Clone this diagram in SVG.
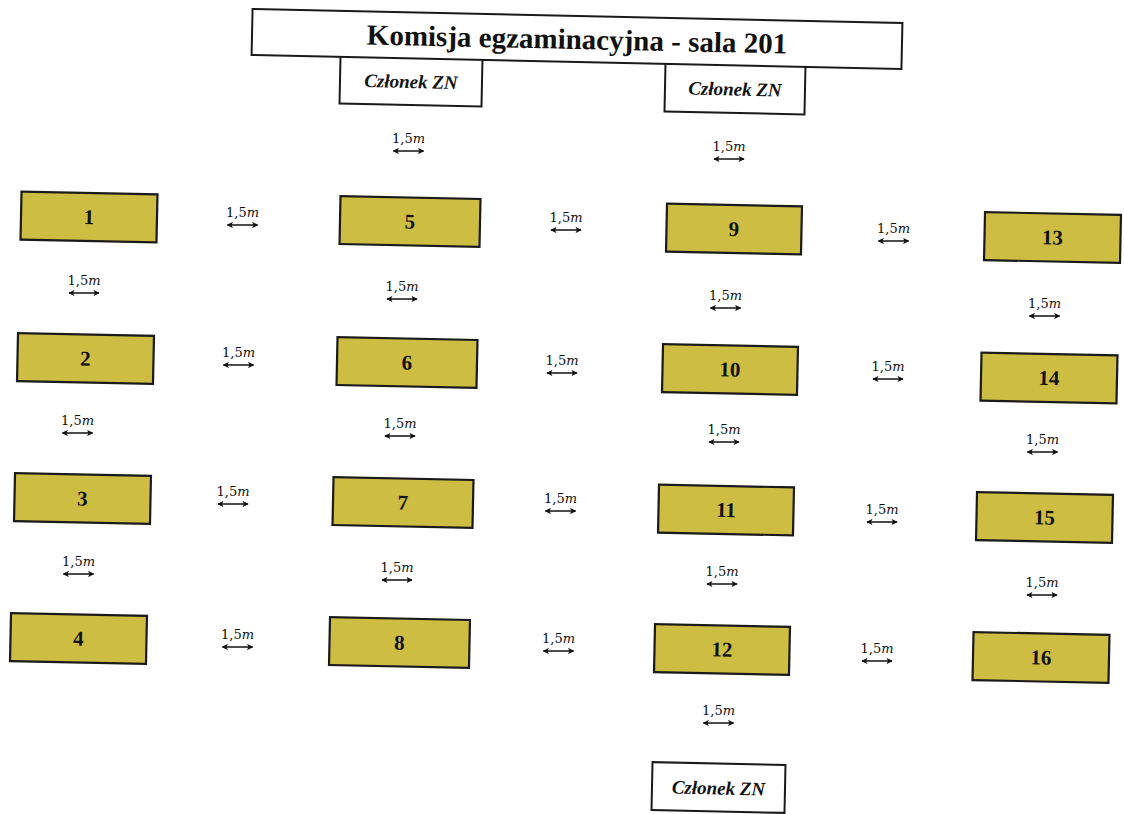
<svg xmlns="http://www.w3.org/2000/svg" width="1124" height="814" viewBox="0 0 1124 814">
<style>
  .box{fill:#ffffff;stroke:#1a1a1a;stroke-width:2}
  .desk{fill:#cdbd42;stroke:#1a1a1a;stroke-width:2.2}
  .num{font-family:"Liberation Serif","Times New Roman",serif;font-weight:bold;font-size:21px;fill:#111;text-anchor:middle}
  .title{font-family:"Liberation Serif","Times New Roman",serif;font-weight:bold;font-size:29px;fill:#111;text-anchor:middle}
  .member{font-family:"Liberation Serif","Times New Roman",serif;font-style:italic;font-weight:bold;font-size:19px;fill:#111;text-anchor:middle}
  .dimt{font-family:"DejaVu Serif","Liberation Serif",serif;font-size:13px;fill:#111;text-anchor:middle}
  .dimt tspan{font-style:italic}
  .diml{stroke:#111;stroke-width:1.5;fill:none;marker-start:url(#ah);marker-end:url(#ah)}
</style>
<defs>
  <marker id="ah" viewBox="0 0 8 8" refX="7" refY="4" markerWidth="4.2" markerHeight="4.2" orient="auto-start-reverse" markerUnits="strokeWidth">
    <path d="M0,0 L8,4 L0,8 L2,4 z" fill="#111"/>
  </marker>
</defs>
<rect width="1124" height="814" fill="#ffffff"/>

<g id="member-left" transform="translate(411,81) rotate(1.2)">
  <rect class="box" x="-71" y="-24" width="142" height="48"/>
  <text class="member" y="7">Członek ZN</text>
</g>
<g id="member-right" transform="translate(735,88.5) rotate(1.2)">
  <rect class="box" x="-70" y="-24.5" width="140" height="49"/>
  <text class="member" y="7">Członek ZN</text>
</g>
<g id="title" transform="translate(577,39) rotate(1.23)">
  <rect class="box" x="-325" y="-23" width="650" height="46"/>
  <text class="title" y="10">Komisja egzaminacyjna - sala 201</text>
</g>
<g id="member-bottom" transform="translate(718.5,787.5) rotate(1.2)">
  <rect class="box" x="-66.5" y="-24" width="133" height="48"/>
  <text class="member" y="7">Członek ZN</text>
</g>

<g id="desk-1" transform="translate(89,217) rotate(1.2)"><rect class="desk" x="-68" y="-24" width="136" height="48"/><text class="num" y="7">1</text></g>
<g id="desk-2" transform="translate(85.5,358.5) rotate(1.2)"><rect class="desk" x="-68" y="-24" width="136" height="48"/><text class="num" y="7">2</text></g>
<g id="desk-3" transform="translate(82.5,498.5) rotate(1.2)"><rect class="desk" x="-68" y="-24" width="136" height="48"/><text class="num" y="7">3</text></g>
<g id="desk-4" transform="translate(78.5,638.5) rotate(1.2)"><rect class="desk" x="-68" y="-24" width="136" height="48"/><text class="num" y="7">4</text></g>
<g id="desk-5" transform="translate(410,221.5) rotate(1.2)"><rect class="desk" x="-70" y="-24" width="140" height="48"/><text class="num" y="7">5</text></g>
<g id="desk-6" transform="translate(407,362.5) rotate(1.2)"><rect class="desk" x="-70" y="-24" width="140" height="48"/><text class="num" y="7">6</text></g>
<g id="desk-7" transform="translate(403,502.5) rotate(1.2)"><rect class="desk" x="-70" y="-24" width="140" height="48"/><text class="num" y="7">7</text></g>
<g id="desk-8" transform="translate(399.5,642.5) rotate(1.2)"><rect class="desk" x="-70" y="-24" width="140" height="48"/><text class="num" y="7">8</text></g>
<g id="desk-9" transform="translate(734,229) rotate(1.2)"><rect class="desk" x="-67.5" y="-24" width="135" height="48"/><text class="num" y="7">9</text></g>
<g id="desk-10" transform="translate(730,369.5) rotate(1.2)"><rect class="desk" x="-67.5" y="-24" width="135" height="48"/><text class="num" y="7">10</text></g>
<g id="desk-11" transform="translate(726,510) rotate(1.2)"><rect class="desk" x="-67.5" y="-24" width="135" height="48"/><text class="num" y="7">11</text></g>
<g id="desk-12" transform="translate(722,649.5) rotate(1.2)"><rect class="desk" x="-67.5" y="-24" width="135" height="48"/><text class="num" y="7">12</text></g>
<g id="desk-13" transform="translate(1052.5,237.5) rotate(1.2)"><rect class="desk" x="-68" y="-24" width="136" height="48"/><text class="num" y="7">13</text></g>
<g id="desk-14" transform="translate(1049,378) rotate(1.2)"><rect class="desk" x="-68" y="-24" width="136" height="48"/><text class="num" y="7">14</text></g>
<g id="desk-15" transform="translate(1044.5,517.5) rotate(1.2)"><rect class="desk" x="-68" y="-24" width="136" height="48"/><text class="num" y="7">15</text></g>
<g id="desk-16" transform="translate(1041,657.5) rotate(1.2)"><rect class="desk" x="-68" y="-24" width="136" height="48"/><text class="num" y="7">16</text></g>

<g id="connectors">
  <text class="dimt" x="242.5" y="217">1,5<tspan>m</tspan></text><line class="diml" x1="227.5" y1="225" x2="257.5" y2="225"/>
  <text class="dimt" x="566" y="222">1,5<tspan>m</tspan></text><line class="diml" x1="551" y1="230" x2="581" y2="230"/>
  <text class="dimt" x="893.5" y="233">1,5<tspan>m</tspan></text><line class="diml" x1="878.5" y1="241" x2="908.5" y2="241"/>
  <text class="dimt" x="238.5" y="357">1,5<tspan>m</tspan></text><line class="diml" x1="223.5" y1="365" x2="253.5" y2="365"/>
  <text class="dimt" x="562" y="365">1,5<tspan>m</tspan></text><line class="diml" x1="547" y1="373" x2="577" y2="373"/>
  <text class="dimt" x="888" y="371">1,5<tspan>m</tspan></text><line class="diml" x1="873" y1="379" x2="903" y2="379"/>
  <text class="dimt" x="233" y="496">1,5<tspan>m</tspan></text><line class="diml" x1="218" y1="504" x2="248" y2="504"/>
  <text class="dimt" x="560.5" y="503">1,5<tspan>m</tspan></text><line class="diml" x1="545.5" y1="511" x2="575.5" y2="511"/>
  <text class="dimt" x="882" y="514">1,5<tspan>m</tspan></text><line class="diml" x1="867" y1="522" x2="897" y2="522"/>
  <text class="dimt" x="237.5" y="639">1,5<tspan>m</tspan></text><line class="diml" x1="222.5" y1="647" x2="252.5" y2="647"/>
  <text class="dimt" x="558.5" y="643">1,5<tspan>m</tspan></text><line class="diml" x1="543.5" y1="651" x2="573.5" y2="651"/>
  <text class="dimt" x="877" y="653">1,5<tspan>m</tspan></text><line class="diml" x1="862" y1="661" x2="892" y2="661"/>

  <text class="dimt" x="84" y="285">1,5<tspan>m</tspan></text><line class="diml" x1="69" y1="293" x2="99" y2="293"/>
  <text class="dimt" x="77.5" y="425">1,5<tspan>m</tspan></text><line class="diml" x1="62.5" y1="433" x2="92.5" y2="433"/>
  <text class="dimt" x="78.5" y="566">1,5<tspan>m</tspan></text><line class="diml" x1="63.5" y1="574" x2="93.5" y2="574"/>

  <text class="dimt" x="408.5" y="143">1,5<tspan>m</tspan></text><line class="diml" x1="393.5" y1="151" x2="423.5" y2="151"/>
  <text class="dimt" x="402" y="291">1,5<tspan>m</tspan></text><line class="diml" x1="387" y1="299" x2="417" y2="299"/>
  <text class="dimt" x="400" y="428">1,5<tspan>m</tspan></text><line class="diml" x1="385" y1="436" x2="415" y2="436"/>
  <text class="dimt" x="397" y="572">1,5<tspan>m</tspan></text><line class="diml" x1="382" y1="580" x2="412" y2="580"/>

  <text class="dimt" x="729" y="151">1,5<tspan>m</tspan></text><line class="diml" x1="714" y1="159" x2="744" y2="159"/>
  <text class="dimt" x="725.5" y="300">1,5<tspan>m</tspan></text><line class="diml" x1="710.5" y1="308" x2="740.5" y2="308"/>
  <text class="dimt" x="724" y="434">1,5<tspan>m</tspan></text><line class="diml" x1="709" y1="442" x2="739" y2="442"/>
  <text class="dimt" x="722" y="576">1,5<tspan>m</tspan></text><line class="diml" x1="707" y1="584" x2="737" y2="584"/>
  <text class="dimt" x="718.5" y="715">1,5<tspan>m</tspan></text><line class="diml" x1="703.5" y1="723" x2="733.5" y2="723"/>

  <text class="dimt" x="1044.5" y="308">1,5<tspan>m</tspan></text><line class="diml" x1="1029.5" y1="316" x2="1059.5" y2="316"/>
  <text class="dimt" x="1042.5" y="444">1,5<tspan>m</tspan></text><line class="diml" x1="1027.5" y1="452" x2="1057.5" y2="452"/>
  <text class="dimt" x="1042" y="587">1,5<tspan>m</tspan></text><line class="diml" x1="1027" y1="595" x2="1057" y2="595"/>
</g>
</svg>
